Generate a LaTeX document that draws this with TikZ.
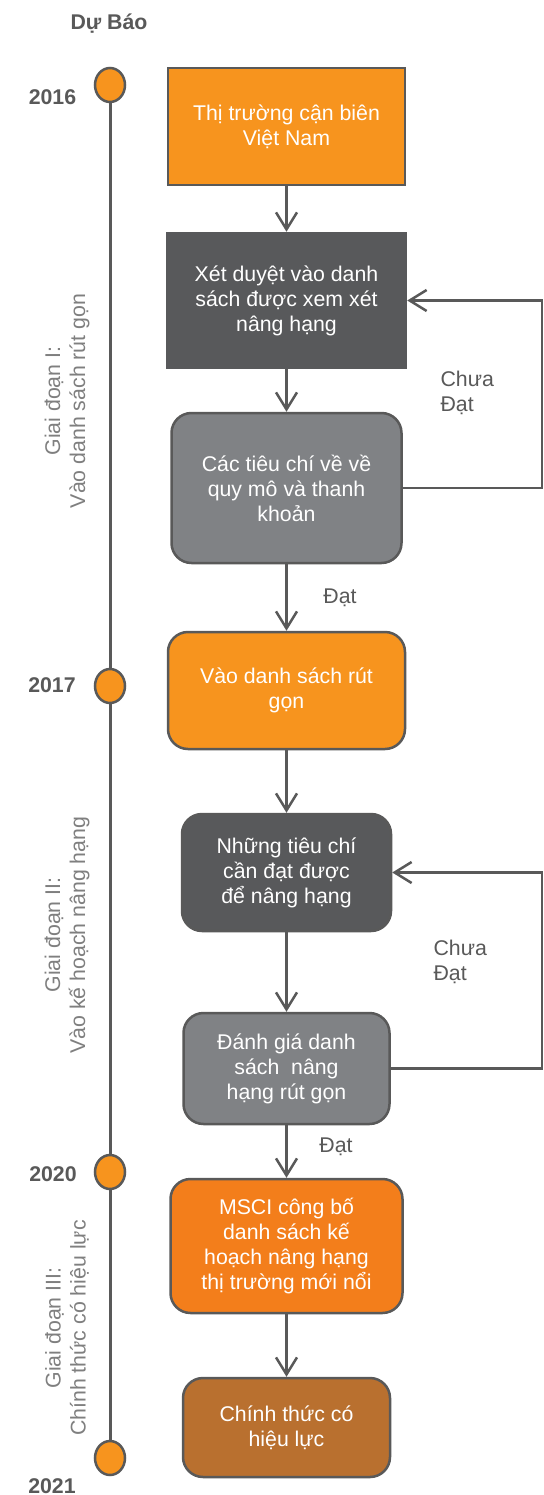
\documentclass[tikz,border=0pt]{standalone}
\usepackage{fontspec}
\setmainfont{Liberation Sans}
\usetikzlibrary{arrows.meta,shapes.geometric}
\definecolor{lc}{HTML}{595959}
\definecolor{org}{HTML}{F7941E}
\definecolor{orgb}{HTML}{F37E1B}
\definecolor{brn}{HTML}{B9702F}
\definecolor{dk}{HTML}{58595B}
\definecolor{md}{HTML}{808285}
\definecolor{lbl}{HTML}{7F7F7F}
\begin{document}
\begin{tikzpicture}[x=1pt,y=-1pt,
  font=\fontsize{21.3}{25}\selectfont,
  box/.style={draw=lc, line width=2.5pt, text=white, align=center, inner sep=0pt},
  rbox/.style={box, rounded corners=20pt},
  flow/.style={draw=lc, line width=2.5pt, -{Straight Barb[length=17pt,width=21pt]}},
  dot/.style={ellipse, draw=lc, line width=2.5pt, fill=org, minimum width=30pt, minimum height=34pt, inner sep=0pt},
  year/.style={text=lc, font=\fontsize{21.3}{25}\selectfont\bfseries},
  phase/.style={text=lbl, rotate=90, align=center},
  note/.style={text=lc, align=left}]
\path[fill=white] (0,0) rectangle (543,1495);
\useasboundingbox (0,0) rectangle (543,1495);

% title and years
\node[year] (title) at (109,24) {Dự Báo};
\node[year] (y1) at (52.5,97) {2016};
\node[year] (y2) at (52,685) {2017};
\node[year] (y3) at (53,1174) {2020};
\node[year] (y4) at (52,1486) {2021};

% timeline
\node[dot] (c1) at (110,85) {};
\node[dot] (c4) at (110,1458) {};
\draw[lc, line width=3pt] (c1) -- (c4);
\node[dot] (c2) at (110,686) {};
\node[dot] (c3) at (110,1172) {};

% phase labels
\node[phase] (p1) at (67,401) {Giai đoạn I:\\Vào danh sách rút gọn};
\node[phase] (p2) at (67,935) {Giai đoạn II:\\Vào kế hoạch nâng hạng};
\node[phase] (p3) at (67,1328) {Giai đoạn III:\\Chính thức có hiệu lực};

% boxes
\node[box, fill=org, minimum width=237pt, minimum height=117pt] (b1) at (286.5,126.5) {Thị trường cận biên\\Việt Nam};
\node[box, fill=dk, draw=dk, minimum width=239pt, minimum height=135pt] (b2) at (286.5,300.5) {Xét duyệt vào danh\\sách được xem xét\\nâng hạng};
\node[rbox, fill=md, minimum width=230pt, minimum height=150pt] (b3) at (286.5,488) {Các tiêu chí về về\\quy mô và thanh\\khoản};
\node[rbox, fill=org, minimum width=237pt, minimum height=117pt] (b4) at (286.5,690.5) {Vào danh sách rút\\gọn};
\node[rbox, fill=dk, minimum width=209pt, minimum height=117pt] (b5) at (286.5,872.5) {Những tiêu chí\\cần đạt được\\để nâng hạng};
\node[rbox, fill=md, minimum width=206pt, minimum height=111pt] (b6) at (286.5,1068.5) {Đánh giá danh\\sách~ nâng\\hạng rút gọn};
\node[rbox, fill=orgb, minimum width=232pt, minimum height=134pt] (b7) at (286.5,1246) {MSCI công bố\\danh sách kế\\hoạch nâng hạng\\thị trường mới nổi};
\node[rbox, fill=brn, minimum width=207pt, minimum height=99pt] (b8) at (286.5,1427.5) {Chính thức có\\hiệu lực};

% vertical flow
\draw[flow] (b1) -- (b2);
\draw[flow] (b2) -- (b3);
\draw[flow] (b3) -- (b4);
\draw[flow] (b4) -- (b5);
\draw[flow] (b5) -- (b6);
\draw[flow] (b6) -- (b7);
\draw[flow] (b7) -- (b8);

% feedback loops
\coordinate (rx) at (542,0);
\draw[flow] (b3.east) -- (b3.east -| rx) |- (b2.east);
\draw[flow] (b6.east) -- (b6.east -| rx) |- (b5.east);

% labels
\node[note, anchor=west] (cd1) at (437,392.5) {Chưa\\Đạt};
\node[note, anchor=west] (cd2) at (430,961.5) {Chưa\\Đạt};
\node[note] (d1) at (340,598) {Đạt};
\node[note] (d2) at (336,1147) {Đạt};
\end{tikzpicture}
\end{document}
